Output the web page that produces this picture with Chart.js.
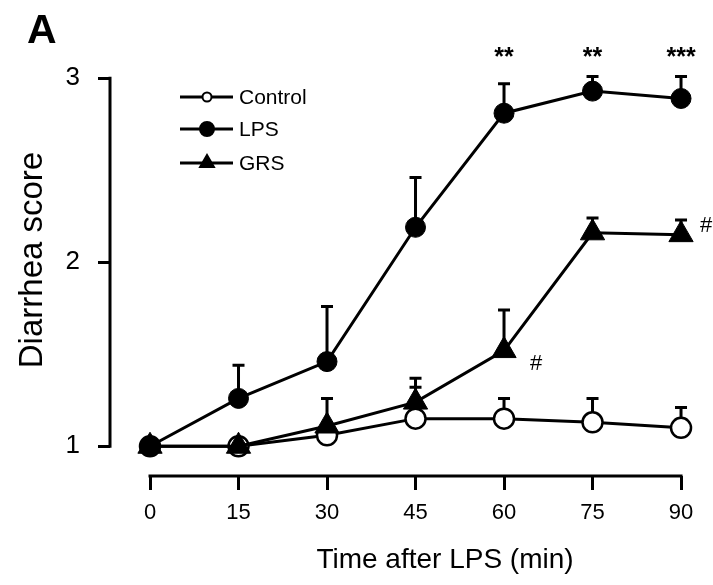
<!DOCTYPE html>
<html>
<head>
<meta charset="utf-8">
<script src="https://cdn.jsdelivr.net/npm/chart.js@4.4.1/dist/chart.umd.min.js"></script>
<style>
  html, body { margin: 0; padding: 0; background: #fff; }
  canvas { display: block; }
</style>
</head>
<body>
<canvas id="chart" width="713" height="585"></canvas>
<script>
// --- data ---
const times = [0, 15, 30, 45, 60, 75, 90];
const xTicks = [0, 15, 30, 45, 60, 75, 90];
const yTicks = [1, 2, 3];

const controlMean = [1.00, 1.00, 1.06, 1.15, 1.15, 1.13, 1.10];
const controlSem  = [0, 0, 0.05, 0.17, 0.11, 0.13, 0.11];
const lpsMean = [1.00, 1.26, 1.46, 2.19, 2.81, 2.93, 2.89];
const lpsSem  = [0, 0.18, 0.30, 0.27, 0.16, 0.08, 0.12];
const grsMean = [1.00, 1.00, 1.11, 1.24, 1.52, 2.16, 2.15];
const grsSem  = [0, 0, 0.15, 0.13, 0.22, 0.08, 0.08];

const lpsStars = ['', '', '', '', '**', '**', '***'];
const grsHash  = ['', '', '', '', '#', '', '#'];

const FONT = '"Liberation Sans", Arial, sans-serif';
const toXY = arr => times.map((t, i) => ({ x: t, y: arr[i] }));

// --- error bars (upper only), drawn under the lines ---
const errorBars = {
  id: 'errorBars',
  beforeDatasetsDraw(chart) {
    const { ctx, scales: { x, y } } = chart;
    ctx.save();
    ctx.strokeStyle = '#000';
    ctx.lineWidth = 3;
    chart.data.datasets.forEach(ds => {
      ds.sem.forEach((e, i) => {
        if (!e) return;
        const px = x.getPixelForValue(times[i]);
        const y0 = y.getPixelForValue(ds.data[i].y);
        const y1 = y.getPixelForValue(ds.data[i].y + e);
        ctx.beginPath();
        ctx.moveTo(px, y0);
        ctx.lineTo(px, y1);
        ctx.moveTo(px - 6, y1);
        ctx.lineTo(px + 6, y1);
        ctx.stroke();
      });
    });
    ctx.restore();
  }
};

// --- axes, legend, labels ---
const decorations = {
  id: 'decorations',
  afterDraw(chart) {
    const { ctx, chartArea, scales: { x, y } } = chart;
    ctx.save();
    ctx.strokeStyle = '#000';
    ctx.fillStyle = '#000';
    ctx.lineWidth = 3;
    ctx.lineCap = 'square';

    // detached axis lines
    ctx.beginPath();
    ctx.moveTo(chartArea.left, y.getPixelForValue(yTicks[0]));
    ctx.lineTo(chartArea.left, y.getPixelForValue(yTicks[yTicks.length - 1]));
    ctx.moveTo(x.getPixelForValue(xTicks[0]), chartArea.bottom);
    ctx.lineTo(x.getPixelForValue(xTicks[xTicks.length - 1]), chartArea.bottom);
    ctx.stroke();
    ctx.lineCap = 'butt';

    // panel letter
    ctx.font = 'bold 41px ' + FONT;
    ctx.textAlign = 'left';
    ctx.textBaseline = 'alphabetic';
    ctx.fillText('A', 27, 43);

    // axis titles
    ctx.font = '28px ' + FONT;
    ctx.textAlign = 'center';
    ctx.fillText('Time after LPS (min)', 445, 568);
    ctx.save();
    ctx.translate(42, 260);
    ctx.rotate(-Math.PI / 2);
    ctx.font = '33px ' + FONT;
    ctx.fillText('Diarrhea score', 0, 0);
    ctx.restore();

    // significance marks
    ctx.font = 'bold 25px ' + FONT;
    ctx.textAlign = 'center';
    lpsStars.forEach((s, i) => {
      if (s) ctx.fillText(s, x.getPixelForValue(times[i]), y.getPixelForValue(3.07));
    });
    ctx.font = '22px ' + FONT;
    ctx.textAlign = 'left';
    const hashOffsets = { 4: [26, 19], 6: [19, -3] };
    grsHash.forEach((s, i) => {
      if (!s) return;
      const o = hashOffsets[i];
      ctx.fillText(s, x.getPixelForValue(times[i]) + o[0], y.getPixelForValue(grsMean[i]) + o[1]);
    });

    // legend
    const legendOrder = ['Control', 'LPS', 'GRS'];
    const rows = [97, 129, 163];
    ctx.font = '21px ' + FONT;
    ctx.textBaseline = 'middle';
    legendOrder.forEach((name, k) => {
      const ds = chart.data.datasets.find(d => d.label === name);
      const yy = rows[k];
      ctx.lineWidth = 3;
      ctx.beginPath();
      ctx.moveTo(180, yy);
      ctx.lineTo(233, yy);
      ctx.stroke();
      ctx.beginPath();
      if (ds.pointStyle === 'triangle') {
        const r = 8;
        ctx.moveTo(207, yy - r);
        ctx.lineTo(207 + r * 0.866, yy + r / 2);
        ctx.lineTo(207 - r * 0.866, yy + r / 2);
        ctx.closePath();
      } else {
        ctx.arc(207, yy, name === 'Control' ? 4.5 : 7, 0, Math.PI * 2);
      }
      ctx.fillStyle = ds.pointBackgroundColor;
      ctx.fill();
      ctx.lineWidth = 2;
      ctx.stroke();
      ctx.fillStyle = '#000';
      ctx.fillText(name, 239, yy + 1);
    });
    ctx.restore();
  }
};

Chart.defaults.color = '#000';

new Chart(document.getElementById('chart'), {
  type: 'line',
  data: {
    datasets: [
      {
        label: 'Control', data: toXY(controlMean), sem: controlSem, order: 2,
        borderColor: '#000', borderWidth: 3,
        pointStyle: 'circle', pointRadius: 10, pointBorderWidth: 2.5,
        pointBackgroundColor: '#fff', pointBorderColor: '#000'
      },
      {
        label: 'LPS', data: toXY(lpsMean), sem: lpsSem, order: 1,
        borderColor: '#000', borderWidth: 3,
        pointStyle: 'circle', pointRadius: 10, pointBorderWidth: 1,
        pointBackgroundColor: '#000', pointBorderColor: '#000'
      },
      {
        label: 'GRS', data: toXY(grsMean), sem: grsSem, order: 0,
        borderColor: '#000', borderWidth: 3,
        pointStyle: 'triangle', pointRadius: 14, pointBorderWidth: 1,
        pointBackgroundColor: '#000', pointBorderColor: '#000'
      }
    ]
  },
  options: {
    responsive: false,
    animation: false,
    clip: false,
    layout: { padding: { top: 30, right: 20, left: 0, bottom: 0 } },
    plugins: { legend: { display: false }, tooltip: { enabled: false } },
    scales: {
      x: {
        type: 'linear',
        min: -6.78, max: 92.03,
        afterBuildTicks: s => { s.ticks = xTicks.map(v => ({ value: v })); },
        afterFit: s => { s.height = 109; },
        border: { display: false },
        grid: { display: true, drawOnChartArea: false, drawTicks: true, tickLength: 14, lineWidth: 3, color: '#000' },
        ticks: { font: { family: FONT, size: 22 }, padding: 10, maxRotation: 0 }
      },
      y: {
        min: 0.8383, max: 3.2426,
        afterBuildTicks: s => { s.ticks = yTicks.map(v => ({ value: v })); },
        afterFit: s => { s.width = 110; },
        border: { display: false },
        grid: { display: true, drawOnChartArea: false, drawTicks: true, tickLength: 12, lineWidth: 3, color: '#000' },
        ticks: { font: { family: FONT, size: 26 }, padding: 18 }
      }
    }
  },
  plugins: [errorBars, decorations]
});
</script>
</body>
</html>
